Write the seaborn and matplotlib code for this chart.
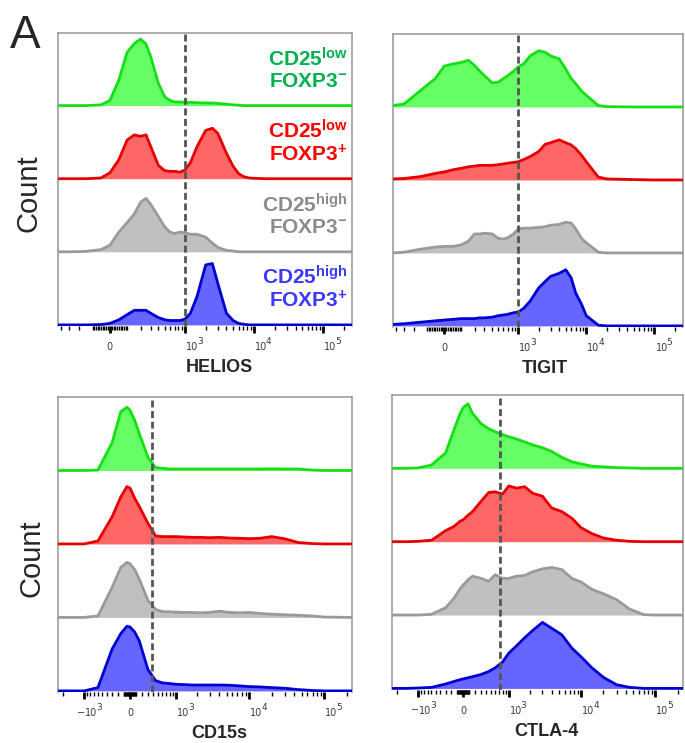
import numpy as np
import matplotlib
matplotlib.use("Agg")
import matplotlib.pyplot as plt
import seaborn as sns

# fluorescence intensity grid (top panels: HELIOS, TIGIT)
top_x = [-450, -300, -150, -50, 0, 50, 100, 150, 200, 250, 300, 400, 500, 600, 700,
         850, 1000, 1200, 1500, 2000, 2500, 3000, 4000, 5000, 6000, 7000, 8500,
         10000, 15000, 20000, 50000, 100000, 262144]
# bottom panels: CD15s, CTLA-4
bottom_x = [-2340, -1500, -1000, -600, -300, -150, -50, 0, 75, 150, 300, 450, 600, 800,
            1000, 1300, 1700, 2200, 3000, 4000, 5500, 7500, 10000, 14000, 20000, 30000,
            45000, 70000, 100000, 235000]

# counts, % of modal height per row
helios_green = [0, 0, 0, 1, 7, 35, 73, 85, 91, 84, 67, 30, 12, 7, 5, 5, 4.5, 4.5, 4, 3.6,
                3.6, 3, 2, 1, 0.5, 0, 0, 0, 0, 0, 0, 0, 0]
helios_red = [0, 0, 0, 1, 8, 26, 53, 60, 58, 60, 44, 18, 11, 10, 10, 9, 12, 22, 44, 66,
              69, 62, 35, 17, 7, 3, 1, 0.5, 0, 0, 0, 0, 0]
helios_gray = [0, 0, 0.5, 3, 9, 27, 40, 52, 68, 73, 65, 48, 34, 27, 25, 27, 26, 24, 24, 20,
               12, 6, 2, 1, 0, 0, 0, 0, 0, 0, 0, 0, 0]
helios_blue = [0, 0, 0, 0.5, 2, 7, 14, 20, 20, 20, 16, 10, 7, 6, 6, 6, 8, 16, 39, 82,
               84, 57, 16, 6, 2, 1, 0, 0, 0, 0, 0, 0, 0]

tigit_green = [2, 4, 22, 39, 56, 59, 61, 64, 57, 49, 43, 33, 34, 39, 43, 49, 55, 59, 70, 77,
               75, 70, 66, 52, 39, 32, 22, 16, 2, 0.5, 0, 0, 0]
tigit_red = [1.4, 2, 4.5, 9, 11, 14, 16, 18, 19, 20, 20, 20, 21, 22, 23, 24, 25, 28, 32, 39,
             49, 51, 55, 51, 48, 43, 34, 25, 4, 1.4, 0.5, 0, 0]
tigit_gray = [0, 1, 5, 8, 9, 9, 11, 16, 26, 26, 27, 26, 20, 19, 21, 26, 33, 34, 34, 35,
              36, 38, 39, 42, 41, 33, 20, 14, 1, 0, 0, 0, 0]
tigit_blue = [2, 3, 5, 7, 8, 9, 10, 10, 10, 11, 11, 12, 14, 15, 16, 18, 19, 24, 34, 52,
              61, 68, 72, 77, 66, 45, 30, 14, 1, 0, 0, 0, 0]

cd15s_green = [0, 0, 0, 0.5, 38, 80, 86, 82, 68, 50, 18, 4, 3, 2, 2, 2, 2, 2, 2, 2,
               2, 2, 2, 2, 2.2, 2, 2, 0.5, 0, 0]
cd15s_red = [0, 0, 0, 4, 37, 64, 78, 76, 62, 51, 28, 11, 10, 10, 10, 9.5, 9, 9, 8.5, 9,
             8, 7.7, 7.2, 7.7, 10, 7, 2, 0.5, 0, 0]
cd15s_gray = [0, 0, 0, 2, 41, 68, 75, 73, 65, 52, 23, 11, 8, 7.7, 7.2, 6.8, 6.8, 6.3, 6.8, 8.5,
              6.8, 6.3, 6.8, 5.4, 4.5, 3.6, 3, 2, 0.5, 0]
cd15s_blue = [0, 0, 0, 4.5, 57, 78, 88, 87, 80, 68, 29, 14, 11, 10, 9, 8.6, 8, 8, 8, 8,
              7.7, 6.8, 5.9, 5.4, 4.5, 3.6, 1.8, 0.5, 0, 0]

ctla4_green = [0, 0, 0.5, 4.5, 21, 53, 75, 83, 88, 75, 61, 54, 50, 46, 43, 40, 36, 32, 28, 23,
               15, 9, 6, 3, 2, 1, 0.5, 0, 0, 0]
ctla4_red = [0, 0, 0.5, 2, 15, 21, 28, 30, 36, 41, 55, 67, 68, 65, 76, 73, 75, 66, 62, 46,
             41, 32, 19, 11, 5, 2, 0.5, 0, 0, 0]
ctla4_gray = [0, 0, 0, 1, 10, 23, 36, 41, 48, 53, 50, 46, 55, 50, 50, 53, 54, 59, 63, 65,
              62, 50, 45, 35, 29, 21, 8, 0.5, 0, 0]
ctla4_blue = [0, 0, 0.5, 1.4, 6, 9.5, 12, 13, 14.5, 16, 19, 23, 28, 36, 48, 58, 69, 79, 90, 82,
              73, 55, 43, 28, 15, 5, 1.4, 0, 0, 0]

populations = [
    r"$\mathbf{CD25^{low}}$" + "\n" + r"$\mathbf{FOXP3^{-}}$",
    r"$\mathbf{CD25^{low}}$" + "\n" + r"$\mathbf{FOXP3^{+}}$",
    r"$\mathbf{CD25^{high}}$" + "\n" + r"$\mathbf{FOXP3^{-}}$",
    r"$\mathbf{CD25^{high}}$" + "\n" + r"$\mathbf{FOXP3^{+}}$",
]
markers = ["HELIOS", "TIGIT", "CD15s", "CTLA-4"]
gates = [1000, 1000, 380, 720]

# axis labels: (value, mantissa, exponent)
top_ticks = [(0, "0", ""), (1000, "10", "3"), (10000, "10", "4"), (100000, "10", "5")]
bottom_ticks = [(-1000, "10", "3"), (0, "0", ""), (1000, "10", "3"),
                (10000, "10", "4"), (100000, "10", "5")]

line_colors = ["#14e014", "#e60000", "#9a9a9a", "#0000d2"]
fill_colors = ["#66ff66", "#ff6666", "#c0c0c0", "#6666ff"]
text_colors = ["#00b050", "#ff0000", "#8c8c8c", "#3a3aff"]

sns.set_style("white")
plt.rcParams["font.family"] = ["Liberation Sans", "DejaVu Sans"]
plt.rcParams["mathtext.fontset"] = "custom"
plt.rcParams["mathtext.rm"] = "Liberation Sans"
plt.rcParams["mathtext.bf"] = "Liberation Sans:bold"
plt.rcParams["mathtext.it"] = "Liberation Sans:italic"
plt.rcParams["mathtext.sf"] = "Liberation Sans"

W, H = 685, 743
fig = plt.figure(figsize=(W / 100, H / 100), dpi=100)


def px_rect(l, t, r, b):
    return [l / W, 1 - b / H, (r - l) / W, (b - t) / H]


def tick_label(ax, value, mant, expo):
    trans = ax.get_xaxis_transform()
    kw = dict(xycoords=trans, textcoords="offset pixels", va="baseline",
              color="#3a3a3a", family="DejaVu Sans", annotation_clip=False)
    if not expo:
        ax.annotate(mant, (value, 0), xytext=(0, -24), ha="center", fontsize=7, **kw)
        return
    ax.annotate(mant, (value, 0), xytext=(1, -24), ha="left", fontsize=7, **kw)
    ax.annotate(expo, (value, 0), xytext=(12, -18), ha="left", fontsize=6.5, **kw)
    if value < 0:
        ax.annotate("\u2212", (value, 0), xytext=(1, -24), ha="right", fontsize=7, **kw)


panels = [
    dict(rect=(58, 32.5, 352, 326), x=top_x, ys=[helios_green, helios_red, helios_gray, helios_blue],
         lw=165, xlim=(-450, 262144), labels=True, xl=0.548, ticks=top_ticks),
    dict(rect=(393, 34, 683, 327), x=top_x, ys=[tigit_green, tigit_red, tigit_gray, tigit_blue],
         lw=165, xlim=(-450, 262144), labels=False, xl=0.524, ticks=top_ticks),
    dict(rect=(58, 397, 352, 692), x=bottom_x, ys=[cd15s_green, cd15s_red, cd15s_gray, cd15s_blue],
         lw=520, xlim=(-2340, 235000), labels=False, xl=0.548, ticks=bottom_ticks),
    dict(rect=(392, 395, 683, 689.5), x=bottom_x, ys=[ctla4_green, ctla4_red, ctla4_gray, ctla4_blue],
         lw=520, xlim=(-2340, 235000), labels=False, xl=0.531, ticks=bottom_ticks),
]

for k, p in enumerate(panels):
    ax = fig.add_axes(px_rect(*p["rect"]))
    ax.set_xscale("asinh", linear_width=p["lw"])
    xs = np.asarray(p["x"], dtype=float)
    for i, ys in enumerate(p["ys"]):
        base = (3 - i) * 100
        yv = base + np.asarray(ys, dtype=float)
        ax.fill_between(xs, base, yv, color=fill_colors[i], lw=0, zorder=2 + i)
        sns.lineplot(x=xs, y=yv, ax=ax, color=line_colors[i], linewidth=2.0,
                     errorbar=None, sort=False, zorder=3 + i)
        if p["labels"]:
            ax.text(0.985, base + 50, populations[i], transform=ax.get_yaxis_transform(),
                    ha="right", va="center", color=text_colors[i], fontsize=15,
                    linespacing=1.08, zorder=10)

    ax.axvline(gates[k], color="#555555", lw=2, linestyle=(0, (2.5, 1.3)), zorder=9)
    ax.set_xlim(*p["xlim"])
    ax.set_ylim(-1.5, 400)
    ax.set_yticks([])
    ax.set_ylabel("")

    lo, hi = p["xlim"]
    major = [t[0] for t in p["ticks"]]
    minor = [s * m * 10 ** d for d in range(1, 6) for m in range(1, 10) for s in (1, -1)]
    minor = sorted(v for v in minor if lo < v < hi and v not in major)
    ax.set_xticks(major)
    ax.set_xticks(minor, minor=True)
    ax.tick_params(axis="x", which="major", direction="out", length=5, width=2,
                   color="black", bottom=True, labelbottom=False)
    ax.tick_params(axis="x", which="minor", direction="out", length=3, width=1,
                   color="black", bottom=True)
    for value, mant, expo in p["ticks"]:
        tick_label(ax, value, mant, expo)
    ax.set_xlabel("")
    ax.text(p["xl"], -0.157, markers[k], transform=ax.transAxes, ha="center",
            va="baseline", fontsize=13, fontweight="bold")

    for side in ["left", "top", "right"]:
        ax.spines[side].set_color("#969696")
        ax.spines[side].set_linewidth(1.1)
    ax.spines["bottom"].set_visible(False)

fig.text(10 / W, 1 - 48 / H, "A", fontsize=33, ha="left", va="baseline")
fig.text(28 / W, 1 - 193 / H, "Count", fontsize=21, rotation=90, ha="center", va="center")
fig.text(32 / W, 1 - 558 / H, "Count", fontsize=21, rotation=90, ha="center", va="center")

fig.savefig("out.png", dpi=100)
